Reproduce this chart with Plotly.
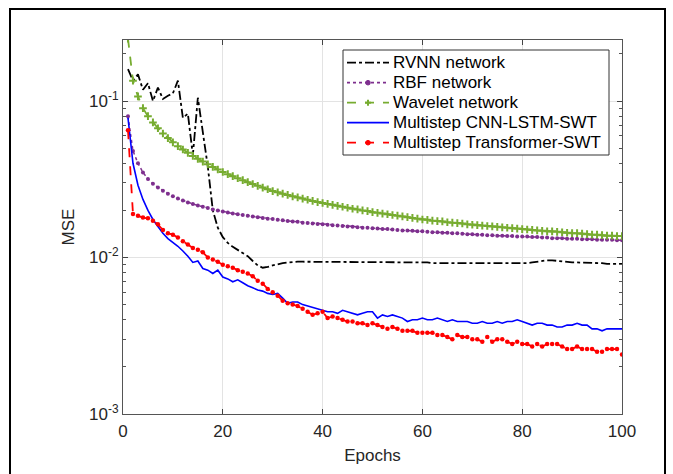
import plotly.graph_objects as go

epochs = list(range(1, 101))

rvnn = [0.160, 0.135, 0.148, 0.118, 0.130, 0.100, 0.122, 0.103, 0.108, 0.112,
        0.135, 0.078, 0.083, 0.045, 0.105, 0.063, 0.038, 0.020, 0.0155, 0.0135,
        0.0124, 0.0117, 0.0112, 0.0107, 0.0102, 0.0095, 0.0089, 0.0086, 0.0087, 0.0089,
        0.0091, 0.0092, 0.0093, 0.0094, 0.0094, 0.0094, 0.0094, 0.0094, 0.0094, 0.0094,
        0.0094, 0.0094, 0.0094, 0.0094, 0.0094, 0.0094, 0.0094, 0.0094, 0.0094, 0.0094,
        0.0094, 0.0094, 0.0093, 0.0093, 0.0093, 0.0093, 0.0093, 0.0093, 0.0093, 0.0093,
        0.0093, 0.0092, 0.0092, 0.0092, 0.0092, 0.0092, 0.0092, 0.0092, 0.0092, 0.0092,
        0.0092, 0.0091, 0.0091, 0.0091, 0.0091, 0.0091, 0.0091, 0.0091, 0.0091, 0.0091,
        0.0092, 0.0093, 0.0094, 0.0095, 0.0096, 0.0096, 0.0095, 0.0094, 0.0093, 0.0093,
        0.0093, 0.0093, 0.0092, 0.0092, 0.0092, 0.0092, 0.0091, 0.0091, 0.0091, 0.0091]

rbf = [0.080, 0.048, 0.040, 0.035, 0.0318, 0.0296, 0.0280, 0.0267, 0.0256, 0.0246,
       0.0238, 0.0231, 0.0225, 0.0220, 0.0215, 0.0211, 0.0207, 0.0203, 0.0200, 0.0197,
       0.0194, 0.0191, 0.0189, 0.0187, 0.0185, 0.0183, 0.0181, 0.0179, 0.0177, 0.0176,
       0.0174, 0.0173, 0.0171, 0.0170, 0.0169, 0.0167, 0.0166, 0.0165, 0.0164, 0.0163,
       0.0162, 0.0161, 0.0160, 0.0159, 0.0158, 0.0157, 0.0156, 0.0155, 0.0155, 0.0154,
       0.0153, 0.0152, 0.0152, 0.0151, 0.0150, 0.0149, 0.0149, 0.0148, 0.0147, 0.0147,
       0.0146, 0.0145, 0.0145, 0.0144, 0.0144, 0.0143, 0.0143, 0.0142, 0.0141, 0.0141,
       0.0140, 0.0140, 0.0139, 0.0139, 0.0138, 0.0138, 0.0137, 0.0137, 0.0136, 0.0136,
       0.0136, 0.0135, 0.0135, 0.0134, 0.0134, 0.0133, 0.0133, 0.0133, 0.0132, 0.0132,
       0.0132, 0.0131, 0.0131, 0.0131, 0.0130, 0.0130, 0.0130, 0.0130, 0.0129, 0.0129]

wavelet = [0.250, 0.135, 0.107, 0.090, 0.080, 0.073, 0.067, 0.062, 0.058, 0.0545,
           0.0515, 0.0490, 0.0467, 0.0446, 0.0427, 0.0410, 0.0394, 0.0379, 0.0365, 0.0352,
           0.0341, 0.0331, 0.0321, 0.0312, 0.0303, 0.0295, 0.0287, 0.0280, 0.0273, 0.0266,
           0.0261, 0.0256, 0.0251, 0.0246, 0.0242, 0.0238, 0.0234, 0.0230, 0.0226, 0.0223,
           0.0220, 0.0217, 0.0214, 0.0211, 0.0208, 0.0205, 0.0203, 0.0200, 0.0198, 0.0195,
           0.0193, 0.0191, 0.0189, 0.0187, 0.0185, 0.0183, 0.0181, 0.0179, 0.0177, 0.0175,
           0.0174, 0.0172, 0.0171, 0.0170, 0.0168, 0.0167, 0.0166, 0.0165, 0.0163, 0.0162,
           0.0161, 0.0160, 0.0159, 0.0158, 0.0157, 0.0156, 0.0155, 0.0154, 0.0153, 0.0152,
           0.0151, 0.0150, 0.0149, 0.0148, 0.0147, 0.0147, 0.0146, 0.0145, 0.0144, 0.0143,
           0.0143, 0.0142, 0.0141, 0.0140, 0.0140, 0.0139, 0.0138, 0.0138, 0.0137, 0.0137]

cnn_lstm = [0.078, 0.040, 0.029, 0.0235, 0.0200, 0.0175, 0.0158, 0.0143, 0.0132, 0.0125,
            0.0118, 0.0110, 0.0102, 0.0093, 0.0095, 0.0085, 0.0083, 0.0079, 0.0083, 0.0075,
            0.0073, 0.0070, 0.0072, 0.0069, 0.0066, 0.0064, 0.0062, 0.0061, 0.0059, 0.0058,
            0.0059, 0.0055, 0.0051, 0.0052, 0.0052, 0.0050, 0.0049, 0.0048, 0.0047, 0.0046,
            0.0045, 0.0045, 0.0044, 0.0046, 0.0045, 0.0044, 0.0043, 0.0044, 0.0045, 0.0045,
            0.0041, 0.0043, 0.0042, 0.0043, 0.0042, 0.0041, 0.0039, 0.0040, 0.0040, 0.0041,
            0.0040, 0.0040, 0.0041, 0.0040, 0.0039, 0.0040, 0.0039, 0.0039, 0.0039, 0.0038,
            0.0038, 0.0039, 0.0038, 0.0038, 0.0039, 0.0038, 0.0039, 0.0039, 0.0040, 0.0039,
            0.0038, 0.0037, 0.0038, 0.0038, 0.0037, 0.0037, 0.0036, 0.0036, 0.0037, 0.0037,
            0.0038, 0.0037, 0.0037, 0.0035, 0.0035, 0.0034, 0.0035, 0.0035, 0.0035, 0.0035]

transformer = [0.065, 0.0190, 0.0185, 0.0180, 0.0178, 0.0172, 0.0163, 0.0150, 0.0143, 0.0140,
               0.0134, 0.0127, 0.0121, 0.0115, 0.0112, 0.0108, 0.0100, 0.0097, 0.0094, 0.0090,
               0.0088, 0.0086, 0.0083, 0.0081, 0.0079, 0.0076, 0.0071, 0.0068, 0.0063, 0.0060,
               0.0057, 0.0053, 0.0051, 0.0050, 0.0049, 0.0047, 0.0045, 0.0043, 0.0044, 0.0045,
               0.0041, 0.0042, 0.0041, 0.0040, 0.0039, 0.0039, 0.0038, 0.0038, 0.0037, 0.0038,
               0.0037, 0.0036, 0.0035, 0.0036, 0.0035, 0.0034, 0.0034, 0.0034, 0.0033, 0.0033,
               0.0033, 0.0033, 0.0032, 0.0032, 0.0031, 0.0030, 0.0032, 0.0031, 0.0031, 0.0030,
               0.0030, 0.0029, 0.0031, 0.0029, 0.0030, 0.0030, 0.0029, 0.0028, 0.0029, 0.0028,
               0.0028, 0.0027, 0.0028, 0.0027, 0.0028, 0.0028, 0.0028, 0.0027, 0.0026, 0.0026,
               0.0027, 0.0026, 0.0026, 0.0026, 0.0025, 0.0025, 0.0026, 0.0026, 0.0026, 0.0024]

series_names = ["RVNN network", "RBF network", "Wavelet network",
                "Multistep CNN-LSTM-SWT", "Multistep Transformer-SWT"]

x_ticks = [0, 20, 40, 60, 80, 100]
y_tickvals = [0.001, 0.01, 0.1]
y_ticktext = ["10<sup>-3</sup>", "10<sup>-2</sup>", "10<sup>-1</sup>"]
y_minor = [m * 10.0 ** e for e in (-3, -2, -1) for m in range(2, 10) if m * 10.0 ** e < 0.25]

FONT = "Liberation Sans, Arial, sans-serif"
AX = "#262626"
C_RBF = "#7E2F8E"
C_WAV = "#77AC30"
C_BLUE = "#0000ff"
C_RED = "#ff0000"

W, H = 673, 474
ML, MR, MT, MB = 123, 51, 40, 60
PW, PH = W - ML - MR, H - MT - MB


def px(xp):
    return (xp - ML) / PW


def py(yp):
    return (H - MB - yp) / PH


fig = go.Figure()
fig.add_trace(go.Scatter(x=epochs, y=rvnn, name=series_names[0], mode="lines",
                         line=dict(color="black", width=1.8, dash="dashdot")))
fig.add_trace(go.Scatter(x=epochs, y=rbf, name=series_names[1], mode="lines+markers",
                         line=dict(color=C_RBF, width=1.5, dash="dot"),
                         marker=dict(symbol="circle", size=4, color=C_RBF)))
fig.add_trace(go.Scatter(x=epochs, y=wavelet, name=series_names[2], mode="lines+markers",
                         line=dict(color=C_WAV, width=1.8, dash="dash"),
                         marker=dict(symbol="cross-thin", size=5.5,
                                     line=dict(color=C_WAV, width=2))))
fig.add_trace(go.Scatter(x=epochs, y=cnn_lstm, name=series_names[3], mode="lines",
                         line=dict(color=C_BLUE, width=1.6)))
fig.add_trace(go.Scatter(x=epochs, y=transformer, name=series_names[4], mode="lines+markers",
                         line=dict(color=C_RED, width=1.8, dash="dash"),
                         marker=dict(symbol="circle", size=4.5, color=C_RED)))

# ---- legend box drawn in MATLAB style (text stays real text) ----
shapes = []
annotations = []
# outer figure frame
shapes.append(dict(type="rect", xref="paper", yref="paper",
                   x0=px(10), x1=px(665), y0=py(490), y1=py(9),
                   line=dict(color="black", width=2), fillcolor="rgba(0,0,0,0)",
                   layer="above"))
# legend box
shapes.append(dict(type="rect", xref="paper", yref="paper",
                   x0=px(343), x1=px(609), y0=py(155), y1=py(50),
                   line=dict(color="#333333", width=1), fillcolor="white",
                   layer="above"))
leg_styles = [
    dict(color="black", dash="dashdot", marker=None),
    dict(color=C_RBF, dash="dot", marker="dot"),
    dict(color=C_WAV, dash="dash", marker="plus"),
    dict(color=C_BLUE, dash="solid", marker=None),
    dict(color=C_RED, dash="dash", marker="dot"),
]
row0, step = 62.7, 20.0
for i, (name, st) in enumerate(zip(series_names, leg_styles)):
    yc = row0 + step * i
    shapes.append(dict(type="line", xref="paper", yref="paper",
                       x0=px(347), x1=px(389), y0=py(yc), y1=py(yc),
                       line=dict(color=st["color"], width=1.8, dash=st["dash"]),
                       layer="above"))
    if st["marker"] == "dot":
        r = 2.3
        shapes.append(dict(type="circle", xref="paper", yref="paper",
                           x0=px(368 - r), x1=px(368 + r), y0=py(yc + r), y1=py(yc - r),
                           line=dict(color=st["color"], width=1), fillcolor=st["color"],
                           layer="above"))
    elif st["marker"] == "plus":
        shapes.append(dict(type="line", xref="paper", yref="paper",
                           x0=px(365), x1=px(371), y0=py(yc), y1=py(yc),
                           line=dict(color=st["color"], width=2), layer="above"))
        shapes.append(dict(type="line", xref="paper", yref="paper",
                           x0=px(368), x1=px(368), y0=py(yc - 3), y1=py(yc + 3),
                           line=dict(color=st["color"], width=2), layer="above"))
    annotations.append(dict(xref="paper", yref="paper", x=px(391), y=py(yc),
                            xanchor="left", yanchor="middle", showarrow=False,
                            text=name, font=dict(family=FONT, size=17, color="black")))

fig.update_layout(
    width=W, height=H,
    margin=dict(l=ML, r=MR, t=MT, b=MB),
    paper_bgcolor="white", plot_bgcolor="white",
    font=dict(family=FONT, color=AX),
    showlegend=False,
    shapes=shapes,
    annotations=annotations,
)

fig.update_xaxes(range=[0, 100], tickvals=x_ticks, ticks="inside", ticklen=5,
                 showline=True, linecolor="#555555", linewidth=1, mirror="ticks",
                 showgrid=True, gridcolor="#e3e3e3", gridwidth=1, zeroline=False,
                 tickfont=dict(size=17, color=AX), ticklabelstandoff=2,
                 title=dict(text="Epochs", font=dict(size=17, color=AX), standoff=8))

fig.update_yaxes(type="log", range=[-3, -0.61], tickvals=y_tickvals, ticktext=y_ticktext,
                 ticks="inside", ticklen=5,
                 showline=True, linecolor="#555555", linewidth=1, mirror="ticks",
                 showgrid=True, gridcolor="#e3e3e3", gridwidth=1, zeroline=False,
                 minor=dict(tickvals=y_minor, ticks="inside", ticklen=3,
                            tickcolor="#555555", showgrid=False),
                 tickfont=dict(size=17, color=AX),
                 title=dict(text="MSE", font=dict(size=17, color=AX), standoff=10))

fig.write_html("out.html", config={"displayModeBar": False, "staticPlot": True},
               post_script="document.body.style.margin='0';document.body.style.overflow='hidden';")
